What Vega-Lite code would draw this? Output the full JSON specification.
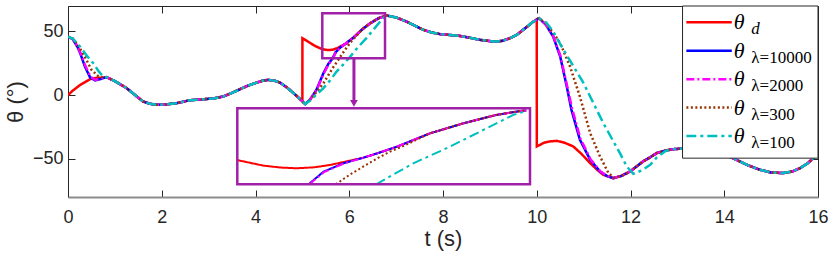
{
"$schema":"https://vega.github.io/schema/vega-lite/v6.json",
"width":750,"height":191,
"autosize":{"type":"none"},
"padding":{"left":68,"top":6,"right":13,"bottom":66},
"background":"white",
"config":{"view":{"stroke":"#262626","strokeWidth":1},"font":"Liberation Sans"},
"datasets":{
"main":[
{"s":"d","t":0,"v":0},{"s":"d","t":0.1,"v":3.5},{"s":"d","t":0.26,"v":8},{"s":"d","t":0.47,"v":12.5},{"s":"d","t":0.6,"v":13.5},{"s":"d","t":0.72,"v":13.7},
{"s":"d","t":0.82,"v":14.1},{"s":"d","t":1.0,"v":11},{"s":"d","t":1.25,"v":5.5},{"s":"d","t":1.45,"v":-0.5},{"s":"d","t":1.6,"v":-5},{"s":"d","t":1.75,"v":-6.8},{"s":"d","t":1.89,"v":-7.6},{"s":"d","t":2.1,"v":-7.3},{"s":"d","t":2.32,"v":-6.3},{"s":"d","t":2.6,"v":-4},{"s":"d","t":2.9,"v":-3.2},{"s":"d","t":3.1,"v":-2.6},{"s":"d","t":3.31,"v":-1.1},{"s":"d","t":3.5,"v":1.8},{"s":"d","t":3.67,"v":4.7},{"s":"d","t":3.85,"v":7.6},{"s":"d","t":4.03,"v":9.9},{"s":"d","t":4.15,"v":11.3},{"s":"d","t":4.27,"v":12},{"s":"d","t":4.4,"v":11.4},{"s":"d","t":4.52,"v":9.9},{"s":"d","t":4.67,"v":6},{"s":"d","t":4.81,"v":1.6},{"s":"d","t":4.95,"v":-3},
{"s":"d","t":5.0,"v":-5},{"s":"d","t":5.001,"v":44.7},{"s":"d","t":5.1,"v":42.5},{"s":"d","t":5.26,"v":38.8},{"s":"d","t":5.39,"v":36.6},{"s":"d","t":5.48,"v":35.7},{"s":"d","t":5.57,"v":35.4},{"s":"d","t":5.66,"v":35.8},{"s":"d","t":5.74,"v":36.9},{"s":"d","t":5.87,"v":39.3},
{"s":"d","t":5.92,"v":40.3},{"s":"d","t":6.1,"v":45.5},{"s":"d","t":6.28,"v":51.8},{"s":"d","t":6.45,"v":56.5},{"s":"d","t":6.63,"v":60.5},{"s":"d","t":6.8,"v":62.5},
{"s":"d","t":7.0,"v":61},{"s":"d","t":7.22,"v":57.8},{"s":"d","t":7.4,"v":54.5},{"s":"d","t":7.58,"v":51.3},{"s":"d","t":7.76,"v":49.2},{"s":"d","t":7.94,"v":47.9},{"s":"d","t":8.15,"v":47.2},{"s":"d","t":8.36,"v":46.5},{"s":"d","t":8.58,"v":45},{"s":"d","t":8.79,"v":43.4},{"s":"d","t":9.07,"v":42.1},{"s":"d","t":9.25,"v":42.5},{"s":"d","t":9.43,"v":44.7},{"s":"d","t":9.58,"v":47.5},{"s":"d","t":9.71,"v":51.3},{"s":"d","t":9.82,"v":54.5},{"s":"d","t":9.9,"v":57},
{"s":"d","t":10.0,"v":59.5},{"s":"d","t":10.001,"v":-40.3},{"s":"d","t":10.15,"v":-37.5},{"s":"d","t":10.27,"v":-36.4},{"s":"d","t":10.43,"v":-35.9},{"s":"d","t":10.6,"v":-37.5},{"s":"d","t":10.78,"v":-40.3},{"s":"d","t":10.95,"v":-46},{"s":"d","t":11.14,"v":-53.4},{"s":"d","t":11.3,"v":-59},{"s":"d","t":11.42,"v":-62.6},
{"s":"d","t":11.63,"v":-65.2},{"s":"d","t":11.8,"v":-63.5},{"s":"d","t":11.99,"v":-60},{"s":"d","t":12.27,"v":-52},{"s":"d","t":12.42,"v":-48.8},{"s":"d","t":12.56,"v":-45.5},{"s":"d","t":12.75,"v":-43.5},{"s":"d","t":12.92,"v":-42.4},{"s":"d","t":13.1,"v":-42},{"s":"d","t":13.4,"v":-41.5},{"s":"d","t":13.7,"v":-43},{"s":"d","t":14.0,"v":-46.5},{"s":"d","t":14.26,"v":-50.8},{"s":"d","t":14.5,"v":-55},{"s":"d","t":14.76,"v":-58.6},{"s":"d","t":15.0,"v":-60.8},{"s":"d","t":15.26,"v":-61.2},{"s":"d","t":15.45,"v":-60},{"s":"d","t":15.62,"v":-57.3},{"s":"d","t":15.78,"v":-53.5},{"s":"d","t":15.9,"v":-49.5},{"s":"d","t":16,"v":-46},

{"s":"10000","t":0,"v":46},{"s":"10000","t":0.1,"v":44},{"s":"10000","t":0.2,"v":38},{"s":"10000","t":0.26,"v":33},{"s":"10000","t":0.36,"v":22.5},{"s":"10000","t":0.47,"v":14},{"s":"10000","t":0.58,"v":11.5},{"s":"10000","t":0.68,"v":12.5},
{"s":"10000","t":0.82,"v":14.1},{"s":"10000","t":1.0,"v":11},{"s":"10000","t":1.25,"v":5.5},{"s":"10000","t":1.45,"v":-0.5},{"s":"10000","t":1.6,"v":-5},{"s":"10000","t":1.75,"v":-6.8},{"s":"10000","t":1.89,"v":-7.6},{"s":"10000","t":2.1,"v":-7.3},{"s":"10000","t":2.32,"v":-6.3},{"s":"10000","t":2.6,"v":-4},{"s":"10000","t":2.9,"v":-3.2},{"s":"10000","t":3.1,"v":-2.6},{"s":"10000","t":3.31,"v":-1.1},{"s":"10000","t":3.5,"v":1.8},{"s":"10000","t":3.67,"v":4.7},{"s":"10000","t":3.85,"v":7.6},{"s":"10000","t":4.03,"v":9.9},{"s":"10000","t":4.15,"v":11.3},{"s":"10000","t":4.27,"v":12},{"s":"10000","t":4.4,"v":11.4},{"s":"10000","t":4.52,"v":9.9},{"s":"10000","t":4.67,"v":6},{"s":"10000","t":4.81,"v":1.6},{"s":"10000","t":4.95,"v":-3},
{"s":"10000","t":5.06,"v":-7},{"s":"10000","t":5.16,"v":-3.7},{"s":"10000","t":5.3,"v":4.2},{"s":"10000","t":5.45,"v":17.3},{"s":"10000","t":5.55,"v":24.3},{"s":"10000","t":5.646,"v":29},{"s":"10000","t":5.709,"v":33.7},{"s":"10000","t":5.815,"v":37.7},
{"s":"10000","t":5.92,"v":40.3},{"s":"10000","t":6.1,"v":45.5},{"s":"10000","t":6.28,"v":51.8},{"s":"10000","t":6.45,"v":56.5},{"s":"10000","t":6.63,"v":60.5},{"s":"10000","t":6.8,"v":62.5},
{"s":"10000","t":7.0,"v":61},{"s":"10000","t":7.22,"v":57.8},{"s":"10000","t":7.4,"v":54.5},{"s":"10000","t":7.58,"v":51.3},{"s":"10000","t":7.76,"v":49.2},{"s":"10000","t":7.94,"v":47.9},{"s":"10000","t":8.15,"v":47.2},{"s":"10000","t":8.36,"v":46.5},{"s":"10000","t":8.58,"v":45},{"s":"10000","t":8.79,"v":43.4},{"s":"10000","t":9.07,"v":42.1},{"s":"10000","t":9.25,"v":42.5},{"s":"10000","t":9.43,"v":44.7},{"s":"10000","t":9.58,"v":47.5},{"s":"10000","t":9.71,"v":51.3},{"s":"10000","t":9.82,"v":54.5},{"s":"10000","t":9.9,"v":57},
{"s":"10000","t":10.05,"v":60.4},{"s":"10000","t":10.2,"v":55},{"s":"10000","t":10.35,"v":46},{"s":"10000","t":10.5,"v":30.3},{"s":"10000","t":10.64,"v":6.8},{"s":"10000","t":10.74,"v":-11.5},{"s":"10000","t":10.92,"v":-35},{"s":"10000","t":11.14,"v":-50.8},{"s":"10000","t":11.35,"v":-60},{"s":"10000","t":11.5,"v":-63.5},
{"s":"10000","t":11.63,"v":-65.2},{"s":"10000","t":11.8,"v":-63.5},{"s":"10000","t":11.99,"v":-60},{"s":"10000","t":12.27,"v":-52},{"s":"10000","t":12.42,"v":-48.8},{"s":"10000","t":12.56,"v":-45.5},{"s":"10000","t":12.75,"v":-43.5},{"s":"10000","t":12.92,"v":-42.4},{"s":"10000","t":13.1,"v":-42},{"s":"10000","t":13.4,"v":-41.5},{"s":"10000","t":13.7,"v":-43},{"s":"10000","t":14.0,"v":-46.5},{"s":"10000","t":14.26,"v":-50.8},{"s":"10000","t":14.5,"v":-55},{"s":"10000","t":14.76,"v":-58.6},{"s":"10000","t":15.0,"v":-60.8},{"s":"10000","t":15.26,"v":-61.2},{"s":"10000","t":15.45,"v":-60},{"s":"10000","t":15.62,"v":-57.3},{"s":"10000","t":15.78,"v":-53.5},{"s":"10000","t":15.9,"v":-49.5},{"s":"10000","t":16,"v":-46},

{"s":"2000","t":0,"v":46},{"s":"2000","t":0.1,"v":44},{"s":"2000","t":0.2,"v":38.5},{"s":"2000","t":0.27,"v":33},{"s":"2000","t":0.37,"v":23},{"s":"2000","t":0.48,"v":14.5},{"s":"2000","t":0.58,"v":12},{"s":"2000","t":0.68,"v":12.8},
{"s":"2000","t":0.82,"v":14.1},{"s":"2000","t":1.0,"v":11},{"s":"2000","t":1.25,"v":5.5},{"s":"2000","t":1.45,"v":-0.5},{"s":"2000","t":1.6,"v":-5},{"s":"2000","t":1.75,"v":-6.8},{"s":"2000","t":1.89,"v":-7.6},{"s":"2000","t":2.1,"v":-7.3},{"s":"2000","t":2.32,"v":-6.3},{"s":"2000","t":2.6,"v":-4},{"s":"2000","t":2.9,"v":-3.2},{"s":"2000","t":3.1,"v":-2.6},{"s":"2000","t":3.31,"v":-1.1},{"s":"2000","t":3.5,"v":1.8},{"s":"2000","t":3.67,"v":4.7},{"s":"2000","t":3.85,"v":7.6},{"s":"2000","t":4.03,"v":9.9},{"s":"2000","t":4.15,"v":11.3},{"s":"2000","t":4.27,"v":12},{"s":"2000","t":4.4,"v":11.4},{"s":"2000","t":4.52,"v":9.9},{"s":"2000","t":4.67,"v":6},{"s":"2000","t":4.81,"v":1.6},{"s":"2000","t":4.95,"v":-3},
{"s":"2000","t":5.06,"v":-7},{"s":"2000","t":5.16,"v":-3.8},{"s":"2000","t":5.3,"v":3.8},{"s":"2000","t":5.45,"v":16.5},{"s":"2000","t":5.55,"v":23.6},{"s":"2000","t":5.65,"v":28.6},{"s":"2000","t":5.712,"v":33.5},{"s":"2000","t":5.818,"v":37.6},
{"s":"2000","t":5.92,"v":40.3},{"s":"2000","t":6.1,"v":45.5},{"s":"2000","t":6.28,"v":51.8},{"s":"2000","t":6.45,"v":56.5},{"s":"2000","t":6.63,"v":60.5},{"s":"2000","t":6.8,"v":62.5},
{"s":"2000","t":7.0,"v":61},{"s":"2000","t":7.22,"v":57.8},{"s":"2000","t":7.4,"v":54.5},{"s":"2000","t":7.58,"v":51.3},{"s":"2000","t":7.76,"v":49.2},{"s":"2000","t":7.94,"v":47.9},{"s":"2000","t":8.15,"v":47.2},{"s":"2000","t":8.36,"v":46.5},{"s":"2000","t":8.58,"v":45},{"s":"2000","t":8.79,"v":43.4},{"s":"2000","t":9.07,"v":42.1},{"s":"2000","t":9.25,"v":42.5},{"s":"2000","t":9.43,"v":44.7},{"s":"2000","t":9.58,"v":47.5},{"s":"2000","t":9.71,"v":51.3},{"s":"2000","t":9.82,"v":54.5},{"s":"2000","t":9.9,"v":57},
{"s":"2000","t":10.05,"v":60.4},{"s":"2000","t":10.2,"v":55.2},{"s":"2000","t":10.35,"v":46.5},{"s":"2000","t":10.5,"v":31.5},{"s":"2000","t":10.64,"v":8.5},{"s":"2000","t":10.75,"v":-10},{"s":"2000","t":10.93,"v":-34},{"s":"2000","t":11.15,"v":-50.5},{"s":"2000","t":11.36,"v":-60},{"s":"2000","t":11.5,"v":-63.3},
{"s":"2000","t":11.63,"v":-65.2},{"s":"2000","t":11.8,"v":-63.5},{"s":"2000","t":11.99,"v":-60},{"s":"2000","t":12.27,"v":-52},{"s":"2000","t":12.42,"v":-48.8},{"s":"2000","t":12.56,"v":-45.5},{"s":"2000","t":12.75,"v":-43.5},{"s":"2000","t":12.92,"v":-42.4},{"s":"2000","t":13.1,"v":-42},{"s":"2000","t":13.4,"v":-41.5},{"s":"2000","t":13.7,"v":-43},{"s":"2000","t":14.0,"v":-46.5},{"s":"2000","t":14.26,"v":-50.8},{"s":"2000","t":14.5,"v":-55},{"s":"2000","t":14.76,"v":-58.6},{"s":"2000","t":15.0,"v":-60.8},{"s":"2000","t":15.26,"v":-61.2},{"s":"2000","t":15.45,"v":-60},{"s":"2000","t":15.62,"v":-57.3},{"s":"2000","t":15.78,"v":-53.5},{"s":"2000","t":15.9,"v":-49.5},{"s":"2000","t":16,"v":-46},

{"s":"300","t":0,"v":46},{"s":"300","t":0.1,"v":44.5},{"s":"300","t":0.2,"v":40},{"s":"300","t":0.36,"v":30},{"s":"300","t":0.5,"v":20},{"s":"300","t":0.65,"v":14.6},{"s":"300","t":0.75,"v":14},
{"s":"300","t":0.82,"v":14.1},{"s":"300","t":1.0,"v":11},{"s":"300","t":1.25,"v":5.5},{"s":"300","t":1.45,"v":-0.5},{"s":"300","t":1.6,"v":-5},{"s":"300","t":1.75,"v":-6.8},{"s":"300","t":1.89,"v":-7.6},{"s":"300","t":2.1,"v":-7.3},{"s":"300","t":2.32,"v":-6.3},{"s":"300","t":2.6,"v":-4},{"s":"300","t":2.9,"v":-3.2},{"s":"300","t":3.1,"v":-2.6},{"s":"300","t":3.31,"v":-1.1},{"s":"300","t":3.5,"v":1.8},{"s":"300","t":3.67,"v":4.7},{"s":"300","t":3.85,"v":7.6},{"s":"300","t":4.03,"v":9.9},{"s":"300","t":4.15,"v":11.3},{"s":"300","t":4.27,"v":12},{"s":"300","t":4.4,"v":11.4},{"s":"300","t":4.52,"v":9.9},{"s":"300","t":4.67,"v":6},{"s":"300","t":4.81,"v":1.6},{"s":"300","t":4.95,"v":-3},
{"s":"300","t":5.06,"v":-7},{"s":"300","t":5.16,"v":-4},{"s":"300","t":5.3,"v":2.5},{"s":"300","t":5.45,"v":9.4},{"s":"300","t":5.66,"v":22},{"s":"300","t":5.777,"v":28.3},{"s":"300","t":5.85,"v":32.4},{"s":"300","t":5.921,"v":36.1},{"s":"300","t":6.0,"v":40.2},{"s":"300","t":6.064,"v":43.2},{"s":"300","t":6.135,"v":45.8},
{"s":"300","t":6.28,"v":51.8},{"s":"300","t":6.45,"v":56.5},{"s":"300","t":6.63,"v":60.5},{"s":"300","t":6.8,"v":62.5},
{"s":"300","t":7.0,"v":61},{"s":"300","t":7.22,"v":57.8},{"s":"300","t":7.4,"v":54.5},{"s":"300","t":7.58,"v":51.3},{"s":"300","t":7.76,"v":49.2},{"s":"300","t":7.94,"v":47.9},{"s":"300","t":8.15,"v":47.2},{"s":"300","t":8.36,"v":46.5},{"s":"300","t":8.58,"v":45},{"s":"300","t":8.79,"v":43.4},{"s":"300","t":9.07,"v":42.1},{"s":"300","t":9.25,"v":42.5},{"s":"300","t":9.43,"v":44.7},{"s":"300","t":9.58,"v":47.5},{"s":"300","t":9.71,"v":51.3},{"s":"300","t":9.82,"v":54.5},{"s":"300","t":9.9,"v":57},
{"s":"300","t":10.05,"v":60.4},{"s":"300","t":10.2,"v":56},{"s":"300","t":10.35,"v":49},{"s":"300","t":10.5,"v":40.8},{"s":"300","t":10.71,"v":22.5},{"s":"300","t":10.92,"v":-1.1},{"s":"300","t":11.14,"v":-29.8},{"s":"300","t":11.35,"v":-48.2},{"s":"300","t":11.53,"v":-61.2},{"s":"300","t":11.65,"v":-65},
{"s":"300","t":11.8,"v":-63.5},{"s":"300","t":11.99,"v":-60},{"s":"300","t":12.27,"v":-52},{"s":"300","t":12.42,"v":-48.8},{"s":"300","t":12.56,"v":-45.5},{"s":"300","t":12.75,"v":-43.5},{"s":"300","t":12.92,"v":-42.4},{"s":"300","t":13.1,"v":-42},{"s":"300","t":13.4,"v":-41.5},{"s":"300","t":13.7,"v":-43},{"s":"300","t":14.0,"v":-46.5},{"s":"300","t":14.26,"v":-50.8},{"s":"300","t":14.5,"v":-55},{"s":"300","t":14.76,"v":-58.6},{"s":"300","t":15.0,"v":-60.8},{"s":"300","t":15.26,"v":-61.2},{"s":"300","t":15.45,"v":-60},{"s":"300","t":15.62,"v":-57.3},{"s":"300","t":15.78,"v":-53.5},{"s":"300","t":15.9,"v":-49.5},{"s":"300","t":16,"v":-46},

{"s":"100","t":0,"v":46},{"s":"100","t":0.1,"v":44.5},{"s":"100","t":0.26,"v":38},{"s":"100","t":0.4,"v":31},{"s":"100","t":0.54,"v":25},{"s":"100","t":0.65,"v":19},{"s":"100","t":0.75,"v":14.6},
{"s":"100","t":0.82,"v":14.1},{"s":"100","t":1.0,"v":11},{"s":"100","t":1.25,"v":5.5},{"s":"100","t":1.45,"v":-0.5},{"s":"100","t":1.6,"v":-5},{"s":"100","t":1.75,"v":-6.8},{"s":"100","t":1.89,"v":-7.6},{"s":"100","t":2.1,"v":-7.3},{"s":"100","t":2.32,"v":-6.3},{"s":"100","t":2.6,"v":-4},{"s":"100","t":2.9,"v":-3.2},{"s":"100","t":3.1,"v":-2.6},{"s":"100","t":3.31,"v":-1.1},{"s":"100","t":3.5,"v":1.8},{"s":"100","t":3.67,"v":4.7},{"s":"100","t":3.85,"v":7.6},{"s":"100","t":4.03,"v":9.9},{"s":"100","t":4.15,"v":11.3},{"s":"100","t":4.27,"v":12},{"s":"100","t":4.4,"v":11.4},{"s":"100","t":4.52,"v":9.9},{"s":"100","t":4.67,"v":6},{"s":"100","t":4.81,"v":1.6},{"s":"100","t":4.95,"v":-3},
{"s":"100","t":5.06,"v":-7},{"s":"100","t":5.16,"v":-4.5},{"s":"100","t":5.3,"v":0.5},{"s":"100","t":5.45,"v":5.5},{"s":"100","t":5.6,"v":12},{"s":"100","t":5.73,"v":18.5},{"s":"100","t":5.87,"v":24},{"s":"100","t":5.993,"v":29},{"s":"100","t":6.188,"v":37.7},{"s":"100","t":6.366,"v":44.8},{"s":"100","t":6.543,"v":52.6},{"s":"100","t":6.721,"v":60.5},{"s":"100","t":6.8,"v":62.5},
{"s":"100","t":7.0,"v":61},{"s":"100","t":7.22,"v":57.8},{"s":"100","t":7.4,"v":54.5},{"s":"100","t":7.58,"v":51.3},{"s":"100","t":7.76,"v":49.2},{"s":"100","t":7.94,"v":47.9},{"s":"100","t":8.15,"v":47.2},{"s":"100","t":8.36,"v":46.5},{"s":"100","t":8.58,"v":45},{"s":"100","t":8.79,"v":43.4},{"s":"100","t":9.07,"v":42.1},{"s":"100","t":9.25,"v":42.5},{"s":"100","t":9.43,"v":44.7},{"s":"100","t":9.58,"v":47.5},{"s":"100","t":9.71,"v":51.3},{"s":"100","t":9.82,"v":54.5},{"s":"100","t":9.9,"v":57},
{"s":"100","t":10.05,"v":60.4},{"s":"100","t":10.2,"v":57},{"s":"100","t":10.35,"v":50},{"s":"100","t":10.5,"v":40},{"s":"100","t":10.99,"v":10},{"s":"100","t":11.42,"v":-22},{"s":"100","t":11.78,"v":-46},{"s":"100","t":11.92,"v":-56},{"s":"100","t":12.06,"v":-61.8},{"s":"100","t":12.25,"v":-59},{"s":"100","t":12.42,"v":-54.7},{"s":"100","t":12.56,"v":-49},{"s":"100","t":12.75,"v":-43.8},
{"s":"100","t":12.92,"v":-42.4},{"s":"100","t":13.1,"v":-42},{"s":"100","t":13.4,"v":-41.5},{"s":"100","t":13.7,"v":-43},{"s":"100","t":14.0,"v":-46.5},{"s":"100","t":14.26,"v":-50.8},{"s":"100","t":14.5,"v":-55},{"s":"100","t":14.76,"v":-58.6},{"s":"100","t":15.0,"v":-60.8},{"s":"100","t":15.26,"v":-61.2},{"s":"100","t":15.45,"v":-60},{"s":"100","t":15.62,"v":-57.3},{"s":"100","t":15.78,"v":-53.5},{"s":"100","t":15.9,"v":-49.5},{"s":"100","t":16,"v":-46}
],
"inset":[
{"s":"d","t":5.25,"v":39.2},{"s":"d","t":5.389,"v":36.6},{"s":"d","t":5.48,"v":35.7},{"s":"d","t":5.567,"v":35.35},{"s":"d","t":5.66,"v":35.8},{"s":"d","t":5.744,"v":36.9},{"s":"d","t":5.868,"v":39.3},{"s":"d","t":5.921,"v":40.3},{"s":"d","t":6.0,"v":42.5},{"s":"d","t":6.1,"v":45.5},{"s":"d","t":6.277,"v":51.8},{"s":"d","t":6.454,"v":56.5},{"s":"d","t":6.632,"v":60.5},{"s":"d","t":6.757,"v":62.3},{"s":"d","t":6.79,"v":62.6},
{"s":"10000","t":5.63,"v":27.8},{"s":"10000","t":5.646,"v":29},{"s":"10000","t":5.709,"v":33.7},{"s":"10000","t":5.815,"v":37.7},{"s":"10000","t":5.921,"v":40.3},{"s":"10000","t":6.0,"v":42.5},{"s":"10000","t":6.1,"v":45.5},{"s":"10000","t":6.277,"v":51.8},{"s":"10000","t":6.454,"v":56.5},{"s":"10000","t":6.632,"v":60.5},{"s":"10000","t":6.757,"v":62.3},{"s":"10000","t":6.79,"v":62.6},
{"s":"2000","t":5.635,"v":27.8},{"s":"2000","t":5.65,"v":29},{"s":"2000","t":5.712,"v":33.5},{"s":"2000","t":5.818,"v":37.6},{"s":"2000","t":5.921,"v":40.3},{"s":"2000","t":6.0,"v":42.5},{"s":"2000","t":6.1,"v":45.5},{"s":"2000","t":6.277,"v":51.8},{"s":"2000","t":6.454,"v":56.5},{"s":"2000","t":6.632,"v":60.5},{"s":"2000","t":6.757,"v":62.3},{"s":"2000","t":6.79,"v":62.6},
{"s":"300","t":5.775,"v":27.8},{"s":"300","t":5.85,"v":32.4},{"s":"300","t":5.921,"v":36.1},{"s":"300","t":6.0,"v":40.2},{"s":"300","t":6.064,"v":43.2},{"s":"300","t":6.135,"v":45.8},{"s":"300","t":6.277,"v":51.8},{"s":"300","t":6.454,"v":56.5},{"s":"300","t":6.632,"v":60.5},{"s":"300","t":6.757,"v":62.3},{"s":"300","t":6.79,"v":62.6},
{"s":"100","t":5.99,"v":27.8},{"s":"100","t":6.188,"v":37.7},{"s":"100","t":6.366,"v":44.8},{"s":"100","t":6.543,"v":52.6},{"s":"100","t":6.721,"v":60.5},{"s":"100","t":6.79,"v":62.3}
],
"series":[{"s":"d","sub":"d","it":"italic"},{"s":"10000","sub":"λ=10000","it":"normal"},{"s":"2000","sub":"λ=2000","it":"normal"},{"s":"300","sub":"λ=300","it":"normal"},{"s":"100","sub":"λ=100","it":"normal"}]
},
"layer":[
{
"layer":[
{"data":{"name":"main"},
 "mark":{"type":"line","strokeWidth":2.5,"clip":true},
 "encoding":{
  "x":{"field":"t","type":"quantitative","scale":{"domain":[0,16],"nice":false,"zero":false},
   "axis":{"orient":"bottom","values":[0,2,4,6,8,10,12,14,16],"tickSize":-7,"tickColor":"#262626","labelFontSize":18,"labelColor":"#262626","labelFont":"Liberation Sans","labelPadding":18,"labelFlush":false,"labelOverlap":false,"domain":true,"domainColor":"#8c8c8c","domainWidth":2,"grid":false,"title":"t (s)","titleFont":"Liberation Sans","titleFontSize":22,"titleFontWeight":"normal","titleColor":"#262626","titlePadding":2}},
  "y":{"field":"v","type":"quantitative","scale":{"domain":[-80,70],"nice":false,"zero":false},
   "axis":{"orient":"left","values":[-50,0,50],"tickSize":-7,"tickColor":"#262626","labelFontSize":18,"labelColor":"#262626","labelFont":"Liberation Sans","labelPadding":12,"domain":false,"grid":false,"title":"θ (°)","titleFont":"Liberation Sans","titleFontSize":22,"titleFontWeight":"normal","titleColor":"#262626","titlePadding":5}},
  "color":{"field":"s","type":"nominal","scale":{"domain":["d","10000","2000","300","100"],"range":["#ff0000","#0000ff","#ff00ff","#993300","#00bfbf"]},"legend":null},
  "strokeDash":{"field":"s","type":"nominal","scale":{"domain":["d","10000","2000","300","100"],"range":[[1,0],[1,0],[8,3,2,3],[2,2.5],[10,4,3,4]]},"legend":null}
 }},
{"data":{"name":"main"},
 "mark":{"type":"point","opacity":0},
 "encoding":{
  "x":{"field":"t","type":"quantitative","axis":{"orient":"top","values":[0,2,4,6,8,10,12,14,16],"tickSize":-7,"tickColor":"#262626","labels":false,"domain":false,"grid":false,"title":null}},
  "y":{"field":"v","type":"quantitative","axis":{"orient":"right","values":[-50,0,50],"tickSize":-7,"tickColor":"#262626","labels":false,"domain":false,"grid":false,"title":null}}
 }},
{"data":{"values":[{}]},
 "mark":{"type":"rect","fill":null,"fillOpacity":0,"stroke":"#a020a8","strokeWidth":2.5},
 "encoding":{
  "x":{"datum":5.425,"type":"quantitative","axis":null},"x2":{"datum":6.763},
  "y":{"datum":29.0,"type":"quantitative","axis":null},"y2":{"datum":64.4}
 }},
{"data":{"values":[{}]},
 "mark":{"type":"rule","stroke":"#a020a8","strokeWidth":3},
 "encoding":{
  "x":{"datum":6.1,"type":"quantitative","axis":null},
  "y":{"datum":29.0,"type":"quantitative","axis":null},"y2":{"datum":-4}
 }},
{"data":{"values":[{}]},
 "mark":{"type":"point","shape":"triangle-down","filled":true,"fill":"#a020a8","opacity":1,"size":60},
 "encoding":{
  "x":{"datum":6.1,"type":"quantitative","axis":null},
  "y":{"datum":-6.5,"type":"quantitative","axis":null}
 }},
{"data":{"values":[{}]},
 "mark":{"type":"rect","fill":"white","stroke":"#262626","strokeWidth":1},
 "encoding":{
  "x":{"datum":13.11,"type":"quantitative","axis":null},"x2":{"datum":16},
  "y":{"datum":70,"type":"quantitative","axis":null},"y2":{"datum":-49.5}
 }}
],
"resolve":{"axis":{"x":"independent","y":"independent"}}
},
{
"layer":[
{"data":{"values":[{}]},
 "mark":{"type":"rect","fill":"white"},
 "encoding":{
  "x":{"datum":5.25,"type":"quantitative","scale":{"domain":[5.25,6.81],"range":[169.3,462],"nice":false,"zero":false},
   "axis":{"orient":"top","offset":-102.3,"values":[5.674,5.883,6.091,6.298,6.512,6.72],"tickSize":-4,"tickColor":"#555555","labels":false,"domain":false,"grid":false,"title":null}},
  "x2":{"datum":6.81},
  "y":{"datum":27.8,"type":"quantitative","scale":{"domain":[27.8,63.6],"range":[178.3,102.3],"nice":false,"zero":false},
   "axis":{"orient":"left","offset":-169.3,"values":[29.8,51.0,61.5],"tickSize":-4,"tickColor":"#555555","labels":false,"domain":false,"grid":false,"title":null}},
  "y2":{"datum":63.6}
 }},
{"data":{"name":"inset"},
 "mark":{"type":"line","strokeWidth":2},
 "encoding":{
  "x":{"field":"t","type":"quantitative","axis":{"orient":"bottom","offset":-12.7,"values":[5.674,5.883,6.091,6.298,6.512,6.72],"tickSize":-4,"tickColor":"#555555","labels":false,"domain":false,"grid":false,"title":null}},
  "y":{"field":"v","type":"quantitative","axis":{"orient":"right","offset":-288,"values":[29.8,51.0,61.5],"tickSize":-4,"tickColor":"#555555","labels":false,"domain":false,"grid":false,"title":null}},
  "color":{"field":"s","type":"nominal","scale":{"domain":["d","10000","2000","300","100"],"range":["#ff0000","#0000ff","#ff00ff","#993300","#00bfbf"]},"legend":null},
  "strokeDash":{"field":"s","type":"nominal","scale":{"domain":["d","10000","2000","300","100"],"range":[[1,0],[1,0],[8,3,2,3],[2,2.5],[10,4,3,4]]},"legend":null}
 }},
{"data":{"values":[{}]},
 "mark":{"type":"rect","fill":null,"fillOpacity":0,"stroke":"#a020a8","strokeWidth":2.5},
 "encoding":{
  "x":{"datum":5.25,"type":"quantitative","axis":null},"x2":{"datum":6.81},
  "y":{"datum":27.8,"type":"quantitative","axis":null},"y2":{"datum":63.6}
 }}
],
"resolve":{"axis":{"x":"independent","y":"independent"}}
},
{
"data":{"name":"series"},
"layer":[
{"mark":{"type":"rule","strokeWidth":2.5},
 "encoding":{
  "x":{"datum":0.027,"type":"quantitative","scale":{"domain":[0,1],"range":[614.7,750],"nice":false,"zero":false},"axis":null},
  "x2":{"datum":0.363},
  "y":{"field":"s","type":"nominal","scale":{"type":"point","domain":["d","10000","2000","300","100"],"range":[16.3,130],"padding":0},"axis":null},
  "color":{"field":"s","type":"nominal","scale":{"domain":["d","10000","2000","300","100"],"range":["#ff0000","#0000ff","#ff00ff","#993300","#00bfbf"]},"legend":null},
  "strokeDash":{"field":"s","type":"nominal","scale":{"domain":["d","10000","2000","300","100"],"range":[[1,0],[1,0],[8,3,2,3],[2,2.5],[10,4,3,4]]},"legend":null}
 }},
{"mark":{"type":"text","text":"θ","font":"Liberation Serif","fontStyle":"italic","fontSize":22,"align":"left","baseline":"middle","color":"black"},
 "encoding":{
  "x":{"datum":0.378,"type":"quantitative","axis":null},
  "y":{"field":"s","type":"nominal","axis":null}
 }},
{"transform":[{"filter":"datum.it == 'italic'"}],
 "mark":{"type":"text","font":"Liberation Serif","fontStyle":"italic","fontSize":17,"align":"left","baseline":"middle","dy":7,"color":"black"},
 "encoding":{
  "x":{"datum":0.507,"type":"quantitative","axis":null},
  "y":{"field":"s","type":"nominal","axis":null},
  "text":{"field":"sub","type":"nominal"}
 }},
{"transform":[{"filter":"datum.it == 'normal'"}],
 "mark":{"type":"text","font":"Liberation Serif","fontSize":17,"align":"left","baseline":"middle","dy":7,"color":"black"},
 "encoding":{
  "x":{"datum":0.507,"type":"quantitative","axis":null},
  "y":{"field":"s","type":"nominal","axis":null},
  "text":{"field":"sub","type":"nominal"}
 }}
]
}
],
"resolve":{"scale":{"x":"independent","y":"independent"}}
}
